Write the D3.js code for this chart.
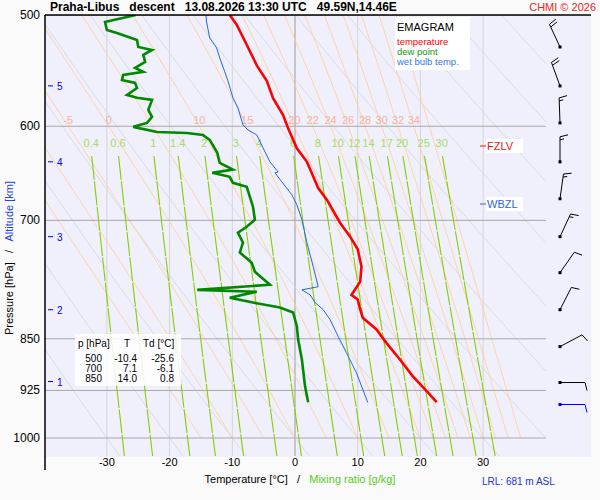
<!DOCTYPE html>
<html><head><meta charset="utf-8">
<script src="https://cdn.jsdelivr.net/npm/d3@7"></script>
<style>body{margin:0;background:#fafafa}svg{font-family:Arial,"Liberation Sans",sans-serif}</style>
</head><body>
<script>
// sounding data
var tP  = [500,508,525,543,557,573,589,602,622,636,664,677,703,719,734,755,774,791,797,810,821,837,856,879,904,926,943];
var tT  = [-10.4,-9.3,-7.7,-6.1,-4.5,-3.5,-1.9,-1.1,0.3,1.9,3.7,5.1,7.2,8.8,10.0,10.6,10.4,9.0,10.0,10.4,10.8,13.0,14.6,16.7,18.8,21.0,22.6];
var tdP = [500,505.8,512.4,515,520.9,526.9,529.5,533.8,540,545.3,548.8,551.6,556.2,558.9,563.5,570,572.7,574.6,584.1,590.9,596.7,600.6,605.6,606.6,608.6,613.6,626.7,637,644.2,647.6,651.8,658.3,662.6,684.6,699.3,707.4,714.3,726.1,737.9,750.3,761.5,777.9,784.5,786.9,794.6,801,807.5,814.1,832.9,851,879.3,918.8,943.2];
var tdT = [-25.4,-30.3,-30.0,-28.4,-25.2,-25.0,-22.8,-24.2,-23.9,-25.5,-24.2,-27.4,-27.6,-25.5,-25.2,-26.8,-25.2,-22.8,-23.4,-22.8,-23.6,-25.8,-22.0,-17.2,-14.7,-13.6,-12.4,-12.0,-9.9,-13.2,-10.4,-9.9,-7.7,-6.7,-6.4,-7.7,-9.1,-8.3,-8.8,-6.9,-6.4,-4.0,-15.6,-6.1,-10.4,-6.7,-2.4,-0.3,0.3,0.5,1.1,1.6,2.1];
var twP = [500,505.8,519.2,527.7,536.5,548.8,557,572.7,582.2,598.6,603.6,608.6,621.6,636,646.5,647.6,657.2,671.3,682.4,699.3,726.1,755.1,780.4,784.5,790.8,801,810.4,823.7,847,869.5,898.8,943.2];
var twT = [-14.2,-14.1,-13.6,-12.5,-12.0,-11.2,-10.7,-9.9,-9.1,-8.3,-7.5,-6.1,-5.1,-4.0,-2.7,-3.2,-2.1,-0.5,0.3,1.1,1.9,2.9,3.7,1.1,2.4,3.2,4.5,5.6,6.9,8.2,9.8,11.6];
var windP   = [526.9,561.6,596.7,636,675.7,719,762.7,810.4,860.9,913.1,946.6];
var windDir = [335,340,358,0,8,25,35,27,62,90,90];
var windKt  = [20,20,15,15,15,15,10,10,10,10,10];
var pTicks = [500,600,700,850,925,1000];
var tTicks = [-30,-20,-10,0,10,20,30];
var altKm = [1,2,3,4,5];
var altP  = [911.6,810.4,719,636,561.6];
var thetaW = [-15,-10,-5,0,5,10,15,20,22,24,26,28,30,32,34,36];
var thetaWLabels = [-5,0,10,15,20,22,24,26,28,30,32,34];
var thetaD = [-30,-20,-10,0,10,20,30,40,50,60,70,80,90,100,110,120];
var mixR = [0.4,0.6,1,1.4,2,3,4,6,8,10,12,14,17,20,25,30];
var tableRows = [["500","-10.4","-25.6"],["700","7.1","-6.1"],["850","14.0","0.8"]];

var svg = d3.select('body').append('svg').attr('width',600).attr('height',500);
var x = d3.scaleLinear().domain([-40,40]).range([44.2,545.8]);
var y = d3.scaleLog().domain([500,1000]).range([15,438]);

svg.append('rect').attr('x',45).attr('y',15).attr('width',546).attr('height',442).attr('fill','#f0f0fc');
svg.append('clipPath').attr('id','c').append('rect').attr('x',45).attr('y',15).attr('width',501).attr('height',441);
var g = svg.append('g').attr('clip-path','url(#c)');

// isotherms
tTicks.forEach(function(t){
  g.append('line').attr('x1',x(t)).attr('x2',x(t)).attr('y1',15).attr('y2',456)
   .attr('stroke', t==0 ? '#999' : '#d4d4d8').attr('stroke-width',1);
});

function es(tc){ return 6.112*Math.exp(17.67*tc/(tc+243.5)); }
function ps(lo,hi,st){ var a=[]; for(var p=lo;p<=hi+0.01;p+=st) a.push(p); return a; }
var line = d3.line().x(function(d){return x(d[1]);}).y(function(d){return y(d[0]);});

// dry adiabats
thetaD.forEach(function(th){
  var pts = ps(500,1030,10).map(function(p){ return [p,(th+273.15)*Math.pow(p/1000,0.2857)-273.15]; });
  g.append('path').attr('d',line(pts)).attr('fill','none').attr('stroke','#d8d8dc').attr('stroke-width',0.9);
});

// saturated adiabats
function dTdp(p,T){
  var Rd=287.04,cp=1005.7,Lv=2.501e6,eps=0.622;
  var e=es(T-273.15), rs=eps*e/(p-e);
  return (1/p)*(Rd*T+Lv*rs)/(cp+Lv*Lv*rs*eps/(Rd*T*T));
}
var labelT = {};
thetaW.forEach(function(tw){
  var T=tw+273.15, pts=[[1000,tw]], p=1000, dp=-2;
  while(p>500){
    var k1=dTdp(p,T), k2=dTdp(p+dp/2,T+k1*dp/2);
    T+=k2*dp; p+=dp; pts.push([p,T-273.15]);
    if(Math.abs(p-600)<0.5) labelT[tw]=T-273.15;
  }
  g.append('path').attr('d',line(pts)).attr('fill','none').attr('stroke','#ffcf9a').attr('stroke-width',0.9);
});

// isobars
pTicks.forEach(function(p){
  g.append('line').attr('x1',45).attr('x2',546).attr('y1',y(p)).attr('y2',y(p)).attr('stroke','#a8a8a8');
});

// mixing ratio lines
function tw_(w,p){ var e=w*p/(622+w), a=Math.log(e/6.112); return 243.5*a/(17.67-a); }
mixR.forEach(function(w){
  var pts = ps(630,1030,10).map(function(p){ return [p,tw_(w,p)]; });
  g.append('path').attr('d',line(pts)).attr('fill','none').attr('stroke','#88cc00').attr('stroke-width',1.1).attr('stroke-dasharray','24,1.5');
  g.append('text').attr('x',x(tw_(w,625))).attr('y',147).attr('text-anchor','middle')
   .attr('font-size',11).attr('fill','#a8dc60').text(w);
});
thetaWLabels.forEach(function(tw){
  g.append('text').attr('x',x(labelT[tw])).attr('y',124).attr('text-anchor','middle')
   .attr('font-size',11).attr('fill','#f8b0a0').text(tw);
});

// profiles
function prof(P,T,col,w){
  g.append('path').attr('d',line(P.map(function(p,i){return [p,T[i]];})))
   .attr('fill','none').attr('stroke',col).attr('stroke-width',w);
}
prof(twP,twT,'#2266dd',1);
prof(tdP,tdT,'#008800',2.6);
prof(tP,tT,'#ff0000',2.6);

// frame
svg.append('line').attr('x1',45).attr('x2',591).attr('y1',15).attr('y2',15).attr('stroke','#000').attr('stroke-width',1.5);
svg.append('line').attr('x1',45).attr('x2',45).attr('y1',15).attr('y2',470).attr('stroke','#000').attr('stroke-width',1.5);

// axes labels
pTicks.forEach(function(p){
  svg.append('text').attr('x',40).attr('y',y(p)+4).attr('text-anchor','end').attr('font-size',12).text(p);
});
tTicks.forEach(function(t){
  svg.append('text').attr('x',x(t)).attr('y',466).attr('text-anchor','middle').attr('font-size',11).text(t);
});
altKm.forEach(function(a,i){
  var yy=y(altP[i]);
  svg.append('line').attr('x1',48).attr('x2',53).attr('y1',yy).attr('y2',yy).attr('stroke','#0000ee');
  svg.append('text').attr('x',57).attr('y',yy+4).attr('font-size',10).attr('fill','#0000ee').text(a);
});
var yl = svg.append('text').attr('transform','translate(13,258) rotate(-90)').attr('text-anchor','middle')
  .attr('font-size',11).attr('xml:space','preserve');
yl.append('tspan').text('Pressure [hPa]   /   ');
yl.append('tspan').attr('fill','#2244dd').text('Altitude [km]');
var xl = svg.append('text').attr('x',300).attr('y',483).attr('text-anchor','middle')
  .attr('font-size',11).attr('xml:space','preserve');
xl.append('tspan').text('Temperature [°C]   /   ');
xl.append('tspan').attr('fill','#55cc22').text('Mixing ratio [g/kg]');
svg.append('text').attr('x',482).attr('y',485).attr('font-size',10).attr('fill','#2233dd').text('LRL: 681 m ASL');

// title
svg.append('text').attr('x',50).attr('y',11).attr('font-size',12).attr('font-weight','bold')
  .attr('xml:space','preserve').text('Praha-Libus   descent   13.08.2026 13:30 UTC   49.59N,14.46E');
svg.append('text').attr('x',596).attr('y',11).attr('text-anchor','end').attr('font-size',11).attr('fill','#ee2222').text('CHMI © 2026');

// legend
svg.append('rect').attr('x',395).attr('y',17).attr('width',75).attr('height',53).attr('fill','#fff');
svg.append('text').attr('x',397).attr('y',31).attr('font-size',11).text('EMAGRAM');
[['temperature','#ff0000'],['dew point','#119911'],['wet bulb temp.','#3377ee']].forEach(function(d,i){
  svg.append('text').attr('x',397).attr('y',45+i*10).attr('font-size',9.5).attr('fill',d[1]).text(d[0]);
});

// levels
[['FZLV',146,'#ee1111'],['WBZL',204,'#3366dd']].forEach(function(d){
  svg.append('rect').attr('x',486).attr('y',d[1]-7).attr('width',37).attr('height',14).attr('fill','#fff');
  svg.append('line').attr('x1',480).attr('x2',486).attr('y1',d[1]).attr('y2',d[1]).attr('stroke',d[2]);
  svg.append('text').attr('x',487).attr('y',d[1]+4).attr('font-size',11).attr('fill',d[2]).text(d[0]);
});

// table
svg.append('rect').attr('x',75).attr('y',334).attr('width',106).attr('height',52).attr('fill','#fff').attr('opacity',0.85);
svg.append('text').attr('x',78).attr('y',347).attr('font-size',10).text('p [hPa]');
svg.append('text').attr('x',127).attr('y',347).attr('font-size',10).attr('text-anchor','middle').text('T');
svg.append('text').attr('x',143).attr('y',347).attr('font-size',10).text('Td [°C]');
tableRows.forEach(function(r,i){
  [102,137,174].forEach(function(cx,j){
    svg.append('text').attr('x',cx).attr('y',362+i*10).attr('font-size',10).attr('text-anchor','end').text(r[j]);
  });
});

// wind barbs
windP.forEach(function(p,i){
  var cx=560, cy=y(p), a=windDir[i]*Math.PI/180;
  var ux=Math.sin(a), uy=-Math.cos(a), vx=-uy, vy=ux, L=25;
  var col = i==windP.length-1 ? '#0000ee' : '#000';
  var tx=cx+L*ux, ty=cy+L*uy;
  var d='M'+cx+','+cy+'L'+tx+','+ty;
  var s=windKt[i], k=0;
  while(s>=10){ var bx=tx-k*3*ux, by=ty-k*3*uy;
    d+='M'+bx+','+by+'l'+(8*vx+2*ux)+','+(8*vy+2*uy); s-=10; k++; }
  if(s>=5){ var bx=tx-k*3*ux, by=ty-k*3*uy;
    d+='M'+bx+','+by+'l'+(4*vx+1*ux)+','+(4*vy+1*uy); }
  svg.append('path').attr('d',d).attr('fill','none').attr('stroke',col).attr('stroke-width',1);
  svg.append('rect').attr('x',cx-1.5).attr('y',cy-1.5).attr('width',3).attr('height',3).attr('fill',col);
});
</script>
</body></html>
